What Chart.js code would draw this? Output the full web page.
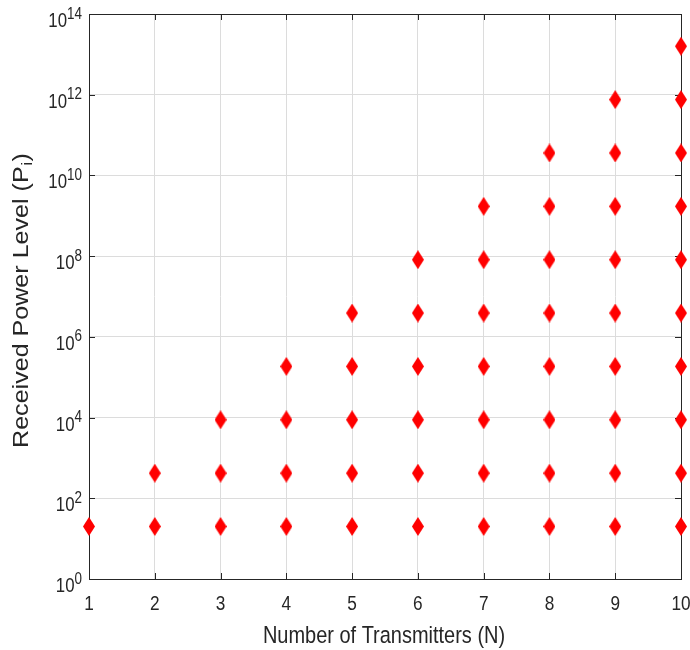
<!DOCTYPE html>
<html>
<head>
<meta charset="utf-8">
<script src="https://cdn.jsdelivr.net/npm/chart.js@4.4.1/dist/chart.umd.min.js"></script>
<style>
  html, body { margin: 0; padding: 0; background: #fff; }
  canvas { display: block; }
</style>
</head>
<body>
<canvas id="chart_div" width="690" height="650"></canvas>
<script>
// number of transmitters on the x axis
const transmitters = [1, 2, 3, 4, 5, 6, 7, 8, 9, 10];
// received power levels P_i (level i appears once N >= i)
const powerLevels = [20, 420, 8820, 185220, 3889620, 81682020, 1715322420,
    36021770820, 756457187220, 15885600931620];
// y ticks as powers of ten
const yTickExponents = [0, 2, 4, 6, 8, 10, 12, 14];
const xTitle = 'Number of Transmitters (N)';
const yTitle = 'Received Power Level (P';
const yTitleSub = 'i';

const regular = "'Liberation Sans', Arial, sans-serif";
const inkColor = '#262626';

let points = [];
transmitters.forEach(n => {
    for (let i = 0; i < n; i++) {
        points.push({ x: n, y: powerLevels[i] });
    }
});

// tall red diamond marker
const diamond = document.createElement('canvas');
diamond.width = 12;
diamond.height = 19;
const dctx = diamond.getContext('2d');
dctx.fillStyle = '#ff0000';
dctx.beginPath();
dctx.moveTo(6, 0);
dctx.lineTo(12, 9.5);
dctx.lineTo(6, 19);
dctx.lineTo(0, 9.5);
dctx.closePath();
dctx.fill();

// text squeezed horizontally, like the original figure
const drawText = function (ctx, text, x, y, size, align, sx) {
    ctx.save();
    ctx.font = size + 'px ' + regular;
    ctx.textAlign = align;
    ctx.textBaseline = 'alphabetic';
    ctx.translate(x, y);
    ctx.scale(sx, 1);
    ctx.fillText(text, 0, 0);
    ctx.restore();
};
const textWidth = function (ctx, text, size, sx) {
    ctx.font = size + 'px ' + regular;
    return ctx.measureText(text).width * sx;
};

// box, inner ticks and labels the way MATLAB draws them
const axesBox = {
    id: 'axesBox',
    beforeDatasetsDraw(chart) {
        const { ctx, chartArea: a, scales } = chart;
        const tl = 6;
        ctx.save();
        ctx.strokeStyle = inkColor;
        ctx.lineWidth = 1;
        ctx.beginPath();
        transmitters.forEach(v => {
            const x = Math.round(scales.x.getPixelForValue(v)) + 0.5;
            ctx.moveTo(x, a.bottom); ctx.lineTo(x, a.bottom - tl);
            ctx.moveTo(x, a.top); ctx.lineTo(x, a.top + tl);
        });
        yTickExponents.forEach(e => {
            const y = Math.round(scales.y.getPixelForValue(Math.pow(10, e))) + 0.5;
            ctx.moveTo(a.left, y); ctx.lineTo(a.left + tl, y);
            ctx.moveTo(a.right, y); ctx.lineTo(a.right - tl, y);
        });
        ctx.stroke();
        ctx.strokeRect(Math.round(a.left) + 0.5, Math.round(a.top) + 0.5,
            Math.round(a.right - a.left), Math.round(a.bottom - a.top));
        ctx.restore();
    },
    afterDraw(chart) {
        const { ctx, chartArea: a, scales } = chart;
        ctx.save();
        ctx.fillStyle = inkColor;

        // y tick labels 10^e
        yTickExponents.forEach(e => {
            const y = scales.y.getPixelForValue(Math.pow(10, e));
            const right = a.left - 7;
            const ew = textWidth(ctx, String(e), 16, 0.84);
            drawText(ctx, String(e), right - ew, y + 4.5, 16, 'left', 0.84);
            drawText(ctx, '10', right - ew, y + 13, 20, 'right', 0.84);
        });

        // x tick labels and title
        transmitters.forEach(v => {
            drawText(ctx, String(v), scales.x.getPixelForValue(v), 610, 20.5, 'center', 0.84);
        });
        drawText(ctx, xTitle, (a.left + a.right) / 2 - 1, 643, 24.5, 'center', 0.815);

        // y axis title with subscript i
        ctx.font = '22px ' + regular;
        const w1 = ctx.measureText(yTitle).width;
        const w3 = ctx.measureText(')').width;
        ctx.font = '15px ' + regular;
        const w2 = ctx.measureText(yTitleSub).width + 1;
        const stretch = 1.14;
        const total = (w1 + w2 + w3) * stretch;
        const cy = (a.top + a.bottom) / 2 + 4;
        ctx.translate(27.5, cy + total / 2);
        ctx.rotate(-Math.PI / 2);
        ctx.scale(stretch, 1);
        ctx.textAlign = 'left';
        ctx.textBaseline = 'alphabetic';
        ctx.font = '22px ' + regular;
        ctx.fillText(yTitle, 0, 0);
        ctx.font = '15px ' + regular;
        ctx.fillText(yTitleSub, w1 + 0.5, 4);
        ctx.font = '22px ' + regular;
        ctx.fillText(')', w1 + w2, 0);
        ctx.restore();
    }
};

new Chart(document.getElementById('chart_div'), {
    type: 'scatter',
    data: {
        datasets: [{
            data: points,
            pointStyle: diamond,
            pointRadius: 6,
            clip: false
        }]
    },
    options: {
        responsive: false,
        animation: false,
        devicePixelRatio: 1,
        events: [],
        layout: {
            padding: { left: 0, right: 9, top: 14, bottom: 0 }
        },
        plugins: {
            legend: { display: false },
            tooltip: { enabled: false }
        },
        scales: {
            x: {
                type: 'linear',
                min: 1,
                max: 10,
                afterBuildTicks: s => { s.ticks = transmitters.map(v => ({ value: v })); },
                afterFit: s => { s.height = 71; },
                ticks: { display: false },
                grid: {
                    color: '#dcdcdc',
                    drawTicks: false
                },
                border: { display: false }
            },
            y: {
                type: 'logarithmic',
                min: 1,
                max: 1e14,
                afterBuildTicks: s => { s.ticks = yTickExponents.map(e => ({ value: Math.pow(10, e) })); },
                afterFit: s => { s.width = 89; },
                ticks: { display: false },
                grid: {
                    color: '#dcdcdc',
                    drawTicks: false
                },
                border: { display: false }
            }
        }
    },
    plugins: [axesBox]
});
</script>
</body>
</html>
